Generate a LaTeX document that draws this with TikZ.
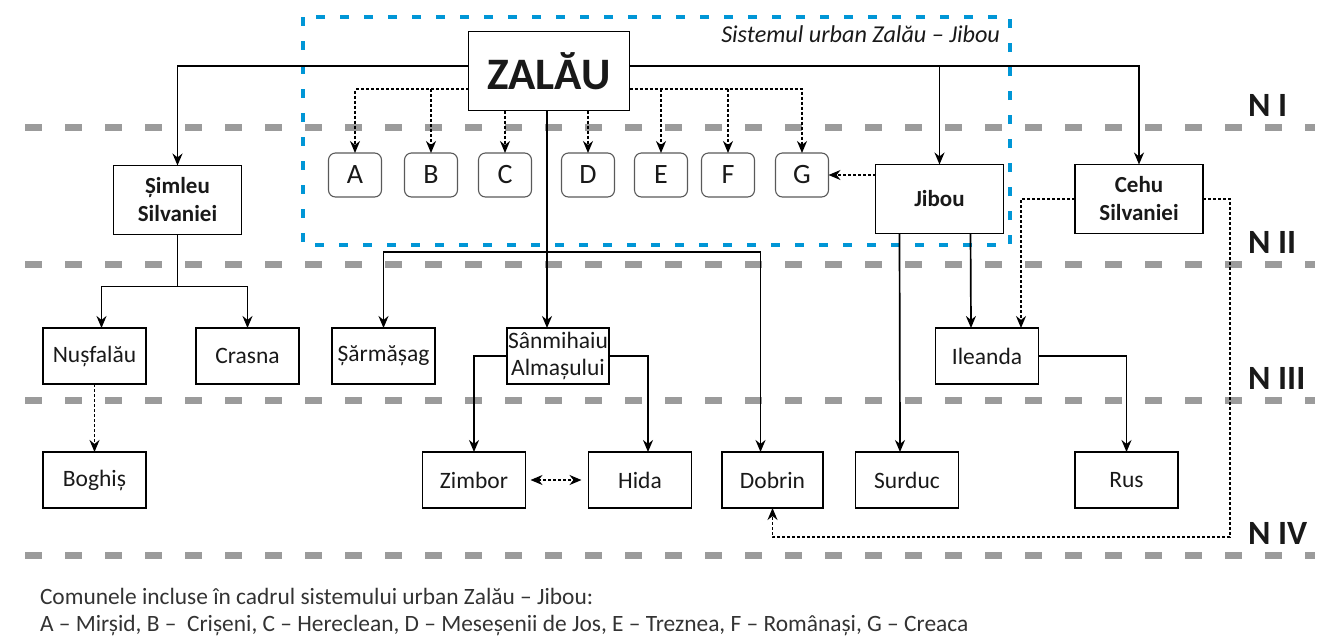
\documentclass[tikz,border=0pt]{standalone}
\usepackage{fontspec}
\setmainfont{Carlito}
\usetikzlibrary{positioning,arrows.meta}
\definecolor{levelgray}{RGB}{155,155,155}
\definecolor{sysblue}{RGB}{0,150,214}

\begin{document}
\begin{tikzpicture}[x=1pt,y=-1pt,
  every node/.style={inner sep=0pt, outer sep=0pt, text=black!90},
  box/.style={draw, line width=1.7pt, minimum width=103pt, minimum height=56pt, font=\fontsize{23.5}{27}\selectfont, align=center},
  townbox/.style={box, minimum width=128pt, minimum height=69pt, font=\fontsize{23}{28}\selectfont\bfseries},
  comm/.style={draw=black!65, line width=1.1pt, rounded corners=7pt, minimum width=53pt, minimum height=44pt, font=\fontsize{28}{30}\selectfont},
  link/.style={line width=1.7pt, -{Stealth[length=12pt,width=10pt]}},
  dotlink/.style={link, line width=1.5pt, dash pattern=on 3pt off 2pt},
  dotboth/.style={dotlink, {Stealth[length=12pt,width=10pt]}-{Stealth[length=12pt,width=10pt]}},
  level/.style={levelgray, line width=7pt, dash pattern=on 17pt off 23pt},
  levellab/.style={anchor=west, font=\fontsize{34}{36}\selectfont\bfseries},
  note/.style={anchor=west, text=black!80, font=\fontsize{23.4}{26}\selectfont}]
  \useasboundingbox (0,0) rectangle (1332,638);

  \foreach \y/\n [count=\i] in {127/N I, 264/N II, 400/N III, 555/N IV} {
    \draw[level] (25,\y) -- (1315,\y);
    \node[levellab] (lev\i) at (1248,\y-22) {\n};
  }
  \draw[sysblue, line width=4pt, dash pattern=on 9pt off 15pt] (303,17) rectangle (1010,245);
  \node[anchor=east, font=\fontsize{24.2}{26}\selectfont\itshape] (systitle) at (1000,34) {Sistemul urban Zalău – Jibou};

  \node[box, font=\fontsize{45}{50}\selectfont\bfseries, minimum width=161pt, minimum height=79pt] (zalau) at (549,71) {ZALĂU};
  \node[townbox] (simleu) at (177.5,200) {Șimleu\\Silvaniei};
  \node[townbox] (jibou) at (939.5,199) {Jibou};
  \node[townbox] (cehu) at (1139,199) {Cehu\\Silvaniei};
  \foreach \c/\x in {A/355,B/431,C/505,D/588,E/661,F/728,G/802}
    \node[comm] (\c) at (\x,175) {\c};

  \node[box] (nusfalau) at (94.5,356) {Nușfalău};
  \node[box] (crasna) at (247.5,356) {Crasna};
  \node[box] (sarmasag) at (383.5,356) {Șărmășag};
  \node[box, minimum width=102pt] (sanmihaiu) at (558,356) {Sânmihaiu\\Almașului};
  \node[box] (ileanda) at (987,356) {Ileanda};

  \node[box] (boghis) at (94.5,480) {Boghiș};
  \node[box] (zimbor) at (474,480) {Zimbor};
  \node[box] (hida) at (640,480) {Hida};
  \node[box, minimum width=101pt] (dobrin) at (772.5,480) {Dobrin};
  \node[box] (surduc) at (907,480) {Surduc};
  \node[box] (rus) at (1126.5,480) {Rus};

  \coordinate (zl) at ([yshift=5pt]zalau.west);
  \coordinate (zr) at ([yshift=5pt]zalau.east);
  \coordinate (dl) at ([yshift=-18pt]zalau.west);
  \coordinate (dr) at ([yshift=-18pt]zalau.east);
  \draw[link] (zl) -| (simleu);
  \draw[link] (zr) -| (cehu);
  \draw[link] (zr -| jibou) -- (jibou);
  \draw[dotlink] (dl) -| (A);
  \draw[dotlink] (dl -| B) -- (B);
  \draw[dotlink] (zalau.south -| C) -- (C);
  \draw[dotlink] (zalau.south -| D) -- (D);
  \draw[dotlink] (dr -| E) -- (E);
  \draw[dotlink] (dr -| F) -- (F);
  \draw[dotlink] (dr) -| (G);
  \draw[dotlink] (jibou.west |- G) -- (G);

  \coordinate (hub) at (547,252);
  \draw[link] ([xshift=-2pt]zalau.south) -- ([xshift=-11pt]sanmihaiu.north);
  \draw[link] (hub) -| (sarmasag);
  \draw[link] (hub) -| ([xshift=-12pt]dobrin.north);

  \draw[link] ([xshift=-40pt]jibou.south) -- ([xshift=-7pt]surduc.north);
  \draw[link] ([xshift=31pt]jibou.south) -- ([xshift=-16pt]ileanda.north);
  \draw[dotlink] (cehu.west) -| ([xshift=34pt]ileanda.north);
  \coordinate (cr) at ([xshift=27pt]cehu.east);
  \draw[dotlink] (cehu.east) -- (cr) |- ([yshift=-29pt]dobrin.south) -- (dobrin.south);
  \draw[link] (ileanda.east) -| (rus);

  \coordinate (sj) at ([yshift=-52pt]simleu.south);
  \draw[link] (simleu) -- (sj) -| ([xshift=7pt]nusfalau.north);
  \draw[link] (sj) -| (crasna);
  \draw[dotlink] (nusfalau) -- (boghis);

  \draw[link] (sanmihaiu.west) -| (zimbor);
  \draw[link] (sanmihaiu.east) -| ([xshift=8pt]hida.north);
  \draw[dotboth, shorten <=5pt, shorten >=7pt] (zimbor) -- (hida);

  \node[note] (note1) at (40,596) {Comunele incluse în cadrul sistemului urban Zalău – Jibou:};
  \node[note] (note2) at (40,626) {A – Mirșid, B –\ \ Crișeni, C – Hereclean, D – Meseșenii de Jos, E – Treznea, F – Românași, G – Creaca};
\end{tikzpicture}
\end{document}
